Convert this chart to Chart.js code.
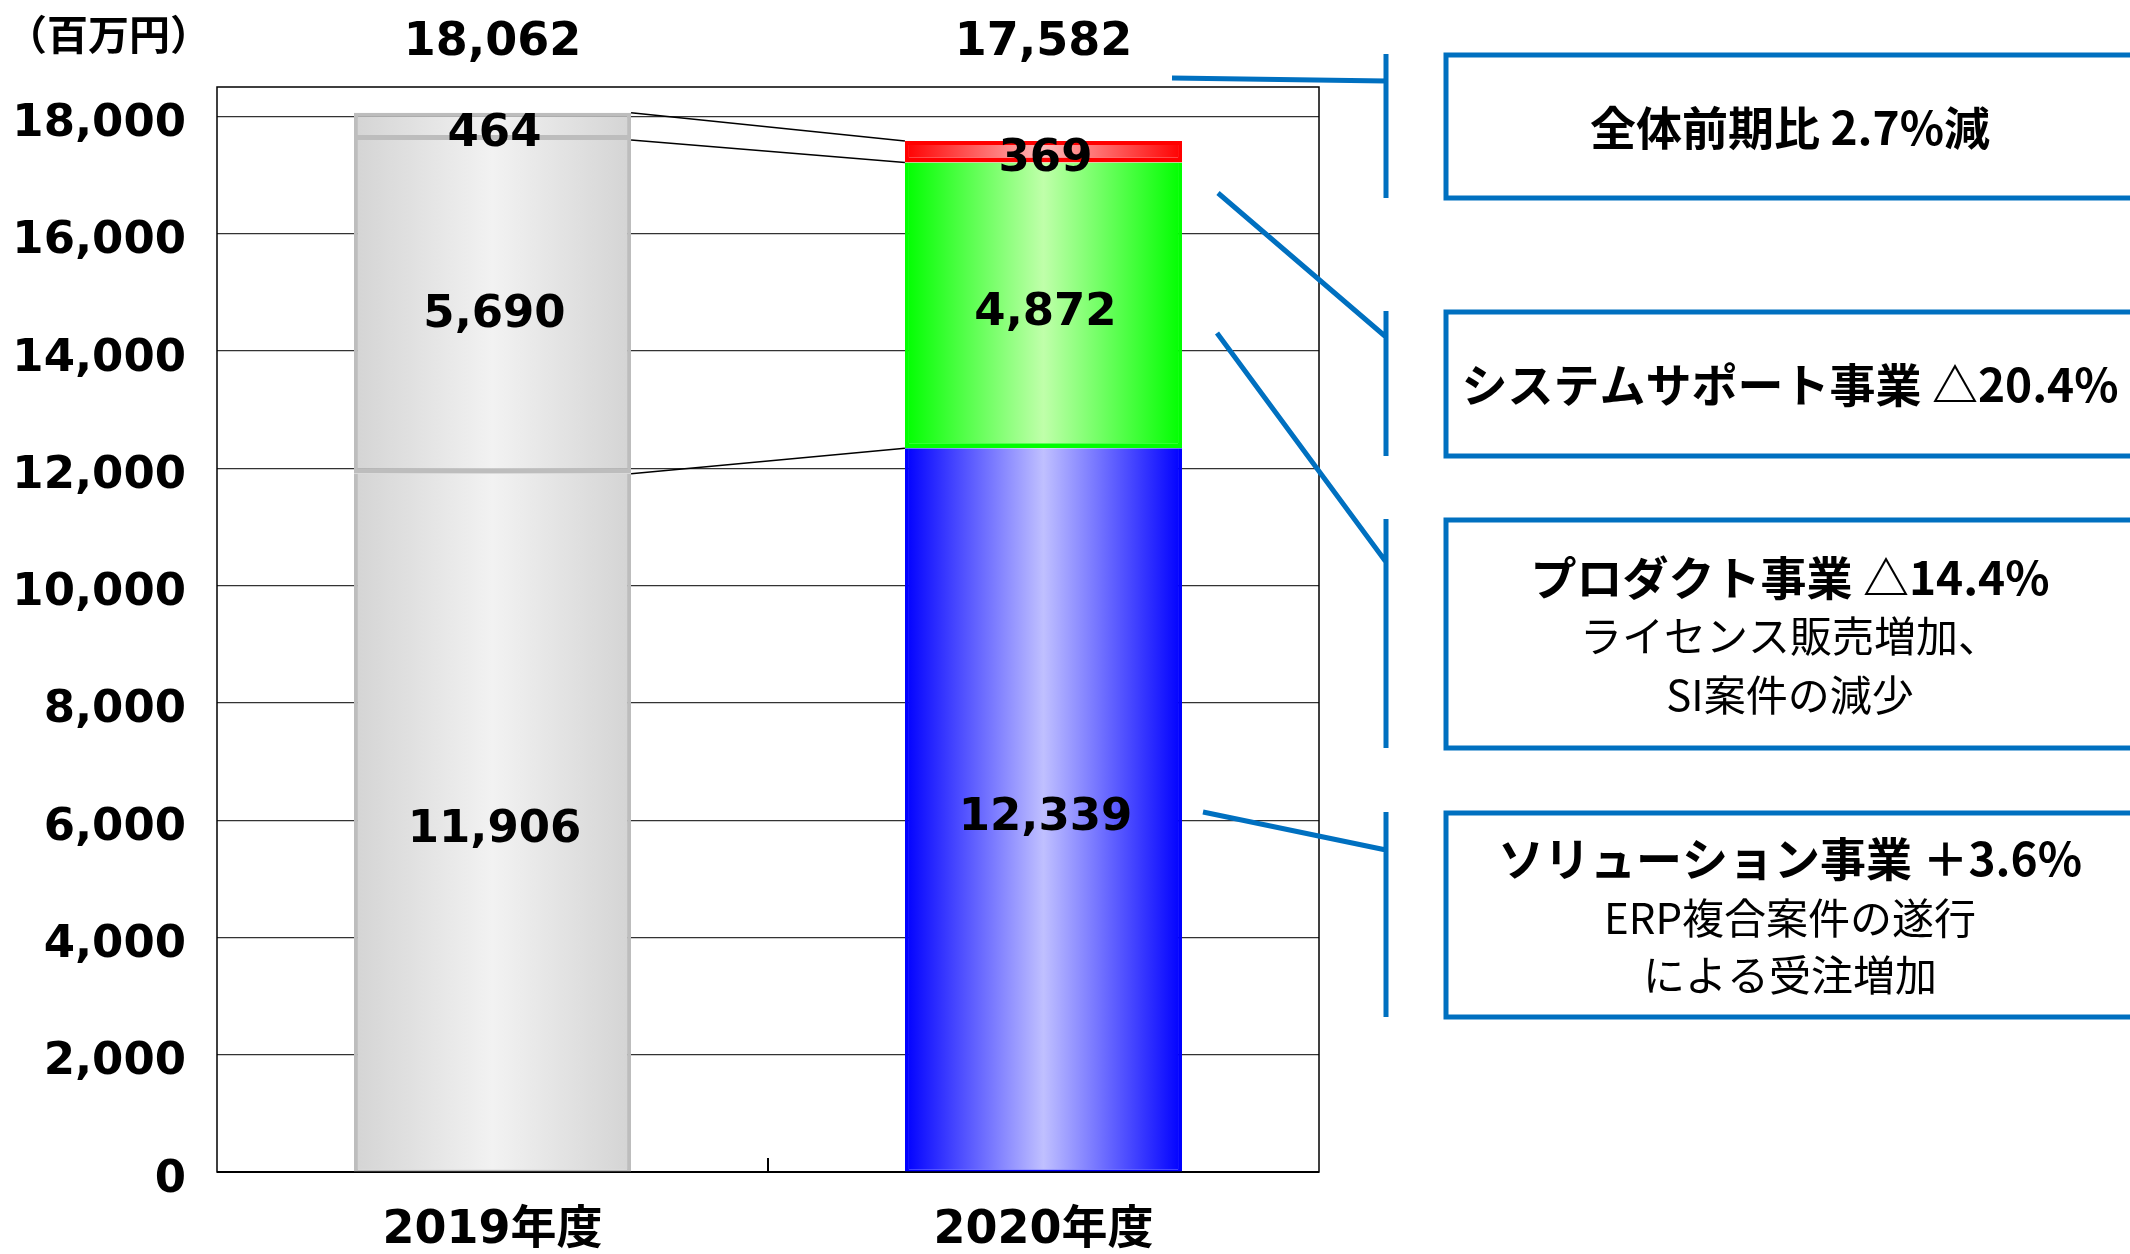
<!DOCTYPE html>
<html lang="ja">
<head>
<meta charset="utf-8">
<title>売上高 事業別</title>
<script src="https://cdn.jsdelivr.net/npm/chart.js@4.4.1/dist/chart.umd.min.js"></script>
<style>
  html, body { margin: 0; padding: 0; background: #fff; }
  #grafica { display: block; }
</style>
</head>
<body>
<canvas id="grafica" width="2130" height="1254"></canvas>
<script>
// datos (百万円)
const categorias = ['2019年度', '2020年度'];
const solucion = [11906, 12339];
const producto = [5690, 4872];
const soporte = [464, 369];
const totales = [18062, 17582];
const marcasY = [0, 2000, 4000, 6000, 8000, 10000, 12000, 14000, 16000, 18000];
const maxY = 18500;

// textos de los recuadros de la derecha
const notas = [
  { titulo: '全体前期比 2.7%減', detalle: [] },
  { titulo: 'システムサポート事業 △20.4%', detalle: [] },
  { titulo: 'プロダクト事業 △14.4%', detalle: ['ライセンス販売増加、', 'SI案件の減少'] },
  { titulo: 'ソリューション事業 ＋3.6%', detalle: ['ERP複合案件の遂行', 'による受注増加'] }
];

// posiciones de las flechas y recuadros (px)
const cajas = [
  { linea: [1172, 78, 1386, 81], top: 53, bottom: 198, textos: [128] },
  { linea: [1218, 193, 1386, 337], top: 310, bottom: 456, textos: [385] },
  { linea: [1217, 333, 1386, 562], top: 518, bottom: 748, textos: [578, 636, 695] },
  { linea: [1203, 812, 1386, 850], top: 811, bottom: 1017, textos: [859, 918, 975] }
];

const fuenteNum = "'DejaVu Sans', 'Noto Sans CJK JP', sans-serif";
const fuenteJp = "'Noto Sans CJK JP', sans-serif";
const azul = '#0070c0';
const anchoBarra = 0.503;

// colores: [borde, centro, linea] ; el 2019 va todo en gris
const gris = ['#d4d4d4', '#f2f2f2', '#bdbdbd'];
const colores = {
  solucion: ['#0000ff', '#c0c0ff', '#0000ff'],
  producto: ['#00ff00', '#c0ffaa', '#00ff00'],
  soporte: ['#ff0000', '#ffbaba', '#ff0000']
};

const degradado = (c) => (ctx) => {
  const paleta = ctx.dataIndex === 0 ? gris : c;
  const chart = ctx.chart;
  const x = chart.scales.x;
  if (!chart.chartArea || !x) return paleta[1];
  const cx = x.getPixelForValue(ctx.dataIndex);
  const mitad = x.width / categorias.length * anchoBarra / 2;
  const g = chart.ctx.createLinearGradient(cx - mitad, 0, cx + mitad, 0);
  g.addColorStop(0, paleta[0]);
  g.addColorStop(0.5, paleta[1]);
  g.addColorStop(1, paleta[0]);
  return g;
};
const borde = (c) => (ctx) => (ctx.dataIndex === 0 ? gris[2] : c[2]);

// cada tramo lleva la raya de separacion en su borde inferior
const serie = (nombre, datos, c, grosor) => ({
  label: nombre,
  data: datos,
  backgroundColor: degradado(c),
  borderColor: borde(c),
  borderWidth: grosor,
  borderSkipped: false
});

const fmt = (v) => v.toLocaleString('en-US');

const dibujos = {
  id: 'dibujos',
  beforeDatasetsDraw(chart) {
    const { ctx, chartArea: a, scales: { x } } = chart;
    ctx.save();
    ctx.strokeStyle = '#000';
    ctx.lineWidth = 1.5;
    ctx.strokeRect(a.left, a.top, a.right - a.left, a.bottom - a.top);
    ctx.lineWidth = 2;
    ctx.beginPath();
    ctx.moveTo(a.left, a.bottom);
    ctx.lineTo(a.right, a.bottom);
    // marca entre categorias
    const xm = (x.getPixelForValue(0) + x.getPixelForValue(1)) / 2;
    ctx.moveTo(xm, a.bottom);
    ctx.lineTo(xm, a.bottom - 14);
    ctx.stroke();
    ctx.restore();
  },
  afterDatasetsDraw(chart) {
    const { ctx, chartArea: a, scales: { y } } = chart;
    const barras = chart.getDatasetMeta(0).data;
    ctx.save();

    // lineas de serie entre las dos barras
    const acum = (i) => [solucion[i], solucion[i] + producto[i], solucion[i] + producto[i] + soporte[i]];
    const x0 = barras[0].x + barras[0].width / 2;
    const x1 = barras[1].x - barras[1].width / 2;
    ctx.strokeStyle = '#000';
    ctx.lineWidth = 1.5;
    acum(0).forEach((v, k) => {
      ctx.beginPath();
      ctx.moveTo(x0, y.getPixelForValue(v));
      ctx.lineTo(x1, y.getPixelForValue(acum(1)[k]));
      ctx.stroke();
    });

    // valores dentro de las barras
    ctx.fillStyle = '#000';
    ctx.textAlign = 'center';
    ctx.textBaseline = 'middle';
    ctx.font = `bold 45px ${fuenteNum}`;
    chart.data.datasets.forEach((ds, d) => {
      chart.getDatasetMeta(d).data.forEach((el, i) => {
        ctx.fillText(fmt(ds.data[i]), el.x + 2, (el.y + el.base) / 2 + 8);
      });
    });

    // totales arriba
    ctx.font = `bold 46px ${fuenteNum}`;
    totales.forEach((t, i) => ctx.fillText(fmt(t), barras[i].x, a.top - 44));

    // unidad
    ctx.textAlign = 'left';
    ctx.font = `bold 41px ${fuenteJp}`;
    ctx.fillText('（百万円）', 6, 34);

    // recuadros con comentarios
    ctx.strokeStyle = azul;
    ctx.lineWidth = 5;
    cajas.forEach((c, n) => {
      const [ax, ay, bx, by] = c.linea;
      ctx.beginPath();
      ctx.moveTo(ax, ay);
      ctx.lineTo(bx, by);
      ctx.moveTo(bx, c.top + 1);
      ctx.lineTo(bx, c.bottom);
      ctx.stroke();
      ctx.strokeRect(1446, c.top + 2, 700, c.bottom - c.top - 2);

      ctx.textAlign = 'center';
      ctx.font = `bold 46px ${fuenteJp}`;
      ctx.fillText(notas[n].titulo, 1790, c.textos[0]);
      ctx.font = `42px ${fuenteJp}`;
      notas[n].detalle.forEach((t, k) => ctx.fillText(t, 1790, c.textos[k + 1]));
    });
    ctx.restore();
  }
};

new Chart(document.getElementById('grafica'), {
  type: 'bar',
  data: {
    labels: categorias,
    datasets: [
      serie('ソリューション事業', solucion, colores.solucion, { top: 0, bottom: 2, left: 4, right: 4 }),
      serie('プロダクト事業', producto, colores.producto, { top: 0, bottom: 5, left: 4, right: 4 }),
      serie('システムサポート事業', soporte, colores.soporte, { top: 4, bottom: 5, left: 4, right: 4 })
    ]
  },
  options: {
    responsive: false,
    animation: false,
    devicePixelRatio: 1,
    layout: { padding: { top: 87, right: 811, left: 0, bottom: 0 } },
    datasets: { bar: { categoryPercentage: 1, barPercentage: anchoBarra } },
    plugins: { legend: { display: false }, tooltip: { enabled: false } },
    scales: {
      x: {
        stacked: true,
        grid: { display: false, drawTicks: false },
        border: { display: false },
        ticks: { color: '#000', padding: 31, font: { family: fuenteNum, size: 46, weight: 'bold' } },
        afterFit: (s) => { s.height = 82; }
      },
      y: {
        stacked: true,
        min: 0,
        max: maxY,
        afterBuildTicks: (s) => { s.ticks = marcasY.map((v) => ({ value: v })); },
        grid: { color: '#333', lineWidth: 1.2, drawTicks: false },
        border: { display: false },
        ticks: {
          color: '#000',
          padding: 31,
          labelOffset: 8,
          font: { family: fuenteNum, size: 45, weight: 'bold' },
          callback: (v) => fmt(v)
        },
        afterFit: (s) => { s.width = 217; }
      }
    }
  },
  plugins: [dibujos]
});
</script>
</body>
</html>
